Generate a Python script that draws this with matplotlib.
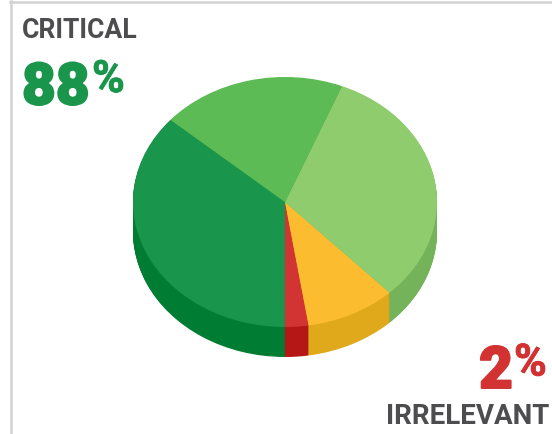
import numpy as np
import matplotlib
matplotlib.use("Agg")
import matplotlib.pyplot as plt
import matplotlib.patheffects as pe
from matplotlib.lines import Line2D

W, H = 552, 435
labels = ["Dark green", "Red", "Yellow", "Light green", "Mid green"]
values = [36.4, 2.5, 9.6, 31.8, 19.7]
top_colors = ["#1a964c", "#d23434", "#fbbd2f", "#8fcc6e", "#5cbb55"]
side_colors = ["#017c33", "#b51716", "#e0a81b", "#75b35a", "#4a9f45"]
critical_label, critical_value = "CRITICAL", "88"
irrelevant_label, irrelevant_value = "IRRELEVANT", "2"

cx, cy, rx, ry, depth = 285, 203, 152, 125, 30

fig = plt.figure(figsize=(W / 100, H / 100), dpi=100, facecolor="white")
ax = fig.add_axes([0, 0, 1, 1])

offsets = np.linspace(depth / ry, 0, 40)
for d in offsets[:-1]:
    ax.pie(values, colors=side_colors, startangle=138.9, center=(0, -d),
           wedgeprops=dict(linewidth=0.4, edgecolor="none"), normalize=True)
ax.pie(values, colors=top_colors, startangle=138.9, center=(0, 0),
       wedgeprops=dict(linewidth=0), normalize=True)
ax.set_aspect("auto")
ax.set_xlim(-cx / rx, (W - cx) / rx)
ax.set_ylim(-(H - cy) / ry, cy / ry)

def px(x, y):
    return x / W, 1 - y / H

for xs, ys in [((10.5, 10.5), (2, H)), ((10, W), (2.5, 2.5))]:
    fig.add_artist(Line2D([x / W for x in xs], [1 - y / H for y in ys],
                          transform=fig.transFigure, color="#d2d2d2", lw=1.8))

grey = "#4d4d4f"
green = "#1a964c"
red = "#d23232"
fam = ["Roboto", "DejaVu Sans"]

def heavy(c, w=1.4):
    return [pe.withStroke(linewidth=w, foreground=c)]

x, y = px(22, 38)
fig.text(x, y, critical_label, fontsize=19.2, fontweight="bold", color=grey,
         family=fam, ha="left", va="baseline")
x, y = px(22, 105.5)
fig.text(x, y, critical_value, fontsize=42, fontweight="black", color=green,
         family=fam, ha="left", va="baseline", path_effects=heavy(green))
x, y = px(92, 93)
fig.text(x, y, "%", fontsize=32, fontweight="bold", color=green,
         family=fam, ha="left", va="baseline", path_effects=heavy(green, 0.6))

x, y = px(549, 424)
fig.text(x, y, irrelevant_label, fontsize=20, fontweight="bold", color=grey,
         family=fam, ha="right", va="baseline")
x, y = px(513, 389)
fig.text(x, y, irrelevant_value, fontsize=42, fontweight="black", color=red,
         family=fam, ha="right", va="baseline", path_effects=heavy(red))
x, y = px(514, 376.5)
fig.text(x, y, "%", fontsize=32, fontweight="bold", color=red,
         family=fam, ha="left", va="baseline", path_effects=heavy(red, 0.6))

fig.savefig("out.png", dpi=100)
